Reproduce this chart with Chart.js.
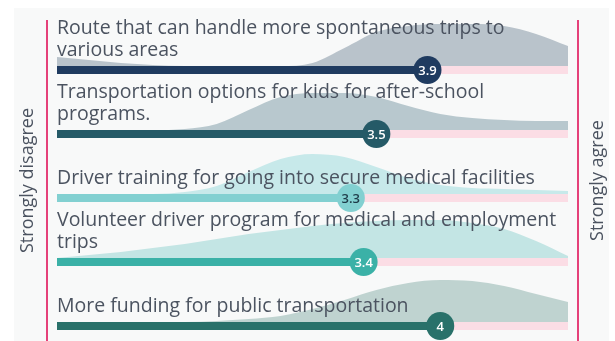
<!DOCTYPE html>
<html>
<head>
<meta charset="utf-8">
<script src="https://cdn.jsdelivr.net/npm/chart.js@4.4.1/dist/chart.umd.min.js"></script>
<style>
  html, body { margin: 0; padding: 0; background: #ffffff; }
  #wrap { width: 615px; height: 341px; }
</style>
</head>
<body>
<div id="wrap"><canvas id="ridgeChart"></canvas></div>
<script>
// Statements, top to bottom (already split into lines)
var statements = [
    ['Route that can handle more spontaneous trips to', 'various areas'],
    ['Transportation options for kids for after-school', 'programs.'],
    ['Driver training for going into secure medical facilities'],
    ['Volunteer driver program for medical and employment', 'trips'],
    ['More funding for public transportation']
];

// Average answer, 1 = strongly disagree, 5 = strongly agree
var averages = [3.9, 3.5, 3.3, 3.4, 4];

// Points on the answer scale where the spread of answers is sampled
var scalePoints = [1, 1.25, 1.5, 1.75, 2, 2.25, 2.5, 2.75, 3, 3.25, 3.5, 3.75, 4, 4.25, 4.5, 4.75, 5];

// Spread of answers for each statement (relative height of the ridge)
var spreadRoute     = [9, 6, 3, 1, 0, 0, 0, 0, 3, 18, 34, 40, 42, 42, 40, 32, 20];
var spreadKids      = [0, 0, 0, 0, 1, 6, 20, 33, 37, 37, 33, 24, 16, 12, 10, 9, 9];
var spreadTraining  = [0, 0, 0, 0, 2, 8, 22, 35, 40, 37, 27, 16, 9, 6, 5, 4, 3];
var spreadVolunteer = [0, 3, 6, 10, 14, 19, 24, 28, 32, 35, 37, 38, 38, 35, 29, 17, 2];
var spreadFunding   = [0, 0, 0, 0, 0, 1, 3, 6, 13, 22, 32, 39, 42, 41, 36, 28, 20];
var spreads = [spreadRoute, spreadKids, spreadTraining, spreadVolunteer, spreadFunding];

var barColors   = ['#1f3b60', '#255a67', '#82d0d1', '#3bb1a7', '#29716a'];
var ridgeColors = ['#b9c3cb', '#b8c8ce', '#c7e9ea', '#c3e5e4', '#bfd3d0'];
var valueColors = ['#ffffff', '#ffffff', '#1d3a48', '#ffffff', '#ffffff'];
var trackColor  = '#fbdde5';
var edgeColor   = '#e5417a';
var textColor   = '#4b5360';
var panelColor  = '#f8f9f9';

var rowPx = 64;        // height of one row
var barPx = 8;         // bar thickness
var half = barPx / 2 / rowPx;

var datasets = [];
statements.forEach(function (_, k) {
    // ridge of answers, sitting on top of the bar
    datasets.push({
        type: 'line',
        data: scalePoints.map(function (x, i) {
            return { x: x, y: k - half - spreads[k][i] / rowPx };
        }),
        fill: { value: k - half },
        backgroundColor: ridgeColors[k],
        borderWidth: 0,
        pointRadius: 0,
        cubicInterpolationMode: 'monotone',
        order: 4
    });
    // rest of the scale to the right of the average
    datasets.push({
        type: 'line',
        data: [{ x: averages[k], y: k }, { x: 5, y: k }],
        borderColor: trackColor,
        borderWidth: barPx,
        borderCapStyle: 'butt',
        pointRadius: 0,
        order: 3
    });
    // bar up to the average
    datasets.push({
        type: 'line',
        data: [{ x: 1, y: k }, { x: averages[k], y: k }],
        borderColor: barColors[k],
        borderWidth: barPx,
        borderCapStyle: 'butt',
        pointRadius: 0,
        order: 2
    });
    // dot holding the average
    datasets.push({
        type: 'line',
        showLine: false,
        data: [{ x: averages[k], y: k }],
        pointRadius: 14,
        pointHoverRadius: 14,
        pointBackgroundColor: barColors[k],
        pointBorderWidth: 0,
        order: 1,
        valueRow: k
    });
});

var labelsPlugin = {
    id: 'rowLabels',
    beforeDraw: function (chart) {
        var c = chart.ctx;
        c.save();
        c.fillStyle = '#ffffff';
        c.fillRect(0, 0, chart.width, chart.height);
        c.fillStyle = panelColor;
        c.fillRect(14, 8, chart.width - 20, chart.height - 8);
        c.restore();
    },
    beforeDatasetsDraw: function (chart) {
        var c = chart.ctx, a = chart.chartArea;
        var mid = (a.top + a.bottom) / 2 + 10;
        c.save();
        c.strokeStyle = edgeColor;
        c.lineWidth = 2;
        c.beginPath();
        c.moveTo(a.left - 10, a.top + 20); c.lineTo(a.left - 10, a.bottom);
        c.moveTo(a.right + 10, a.top + 20); c.lineTo(a.right + 10, a.bottom);
        c.stroke();

        c.fillStyle = textColor;
        c.font = '18px "Open Sans"';
        c.textAlign = 'center';
        c.textBaseline = 'middle';
        c.translate(a.left - 29, mid);
        c.rotate(-Math.PI / 2);
        c.fillText('Strongly disagree', 0, 0);
        c.restore();

        c.save();
        c.fillStyle = textColor;
        c.font = '18px "Open Sans"';
        c.textAlign = 'center';
        c.textBaseline = 'middle';
        c.translate(a.right + 30, mid);
        c.rotate(-Math.PI / 2);
        c.fillText('Strongly agree', 0, 0);
        c.restore();
    },
    afterDatasetsDraw: function (chart) {
        var c = chart.ctx, xs = chart.scales.x, ys = chart.scales.y;
        c.save();
        c.fillStyle = textColor;
        c.font = '19.5px "Open Sans"';
        c.textAlign = 'left';
        c.textBaseline = 'alphabetic';
        statements.forEach(function (lines, k) {
            var base = ys.getPixelForValue(k) - 14;
            lines.forEach(function (line, j) {
                c.fillText(line, xs.left, base - (lines.length - 1 - j) * 22);
            });
        });

        c.font = '600 13px "Open Sans"';
        c.textAlign = 'center';
        c.textBaseline = 'middle';
        chart.data.datasets.forEach(function (ds, i) {
            if (ds.valueRow === undefined) return;
            var pt = chart.getDatasetMeta(i).data[0];
            c.fillStyle = valueColors[ds.valueRow];
            c.fillText(String(averages[ds.valueRow]), pt.x, pt.y + 1);
        });
        c.restore();
    }
};

var ctx = document.getElementById('ridgeChart').getContext('2d');
var yMin = -70 / rowPx;

var ridgeChart = new Chart(ctx, {
    type: 'line',
    data: { datasets: datasets },
    options: {
        responsive: true,
        maintainAspectRatio: false,
        animation: false,
        layout: { autoPadding: false, padding: { left: 57, right: 47, top: 0, bottom: 0 } },
        scales: {
            x: { type: 'linear', min: 1, max: 5, display: false },
            y: { type: 'linear', min: yMin, max: yMin + 341 / rowPx, reverse: true, display: false }
        },
        plugins: {
            legend: { display: false },
            tooltip: { enabled: false }
        }
    },
    plugins: [labelsPlugin]
});
</script>
</body>
</html>
